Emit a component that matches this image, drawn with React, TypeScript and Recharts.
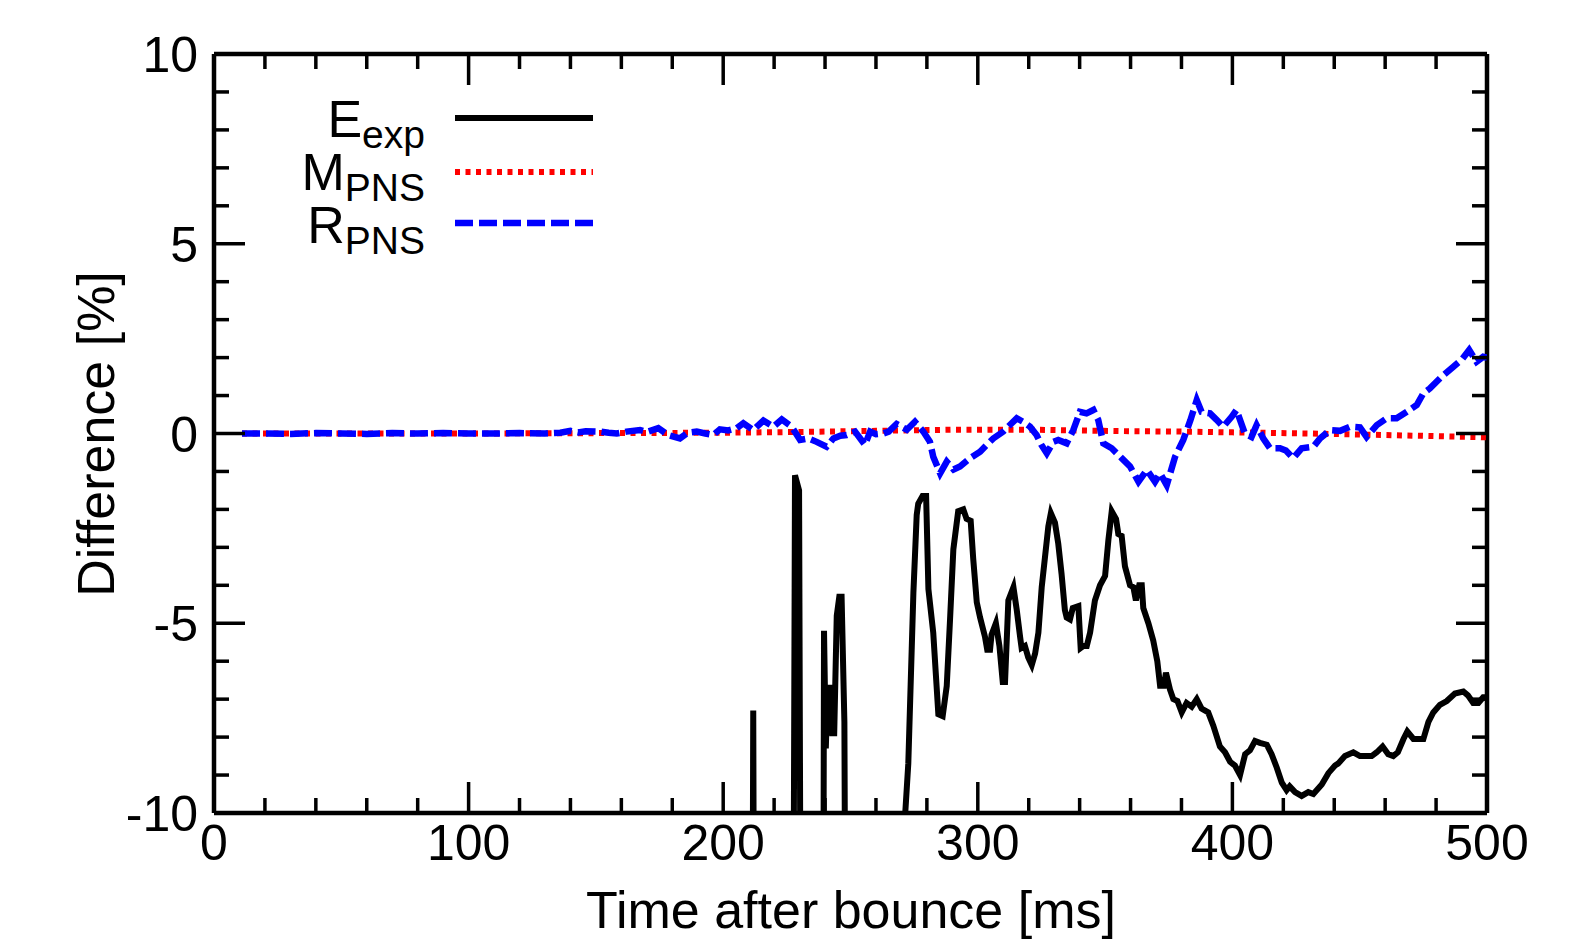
import React from "react";
import {
  LineChart,
  Line,
  XAxis,
  YAxis,
  ReferenceLine,
  Legend,
} from "recharts";

const FONT = '"Liberation Sans", Arial, Helvetica, sans-serif';

const W = 1578;
const H = 947;
const PLOT_LEFT = 214;
const PLOT_TOP = 54;
const PLOT_RIGHT = 1487;
const PLOT_BOTTOM = 813;
const PLOT_W = PLOT_RIGHT - PLOT_LEFT;
const PLOT_H = PLOT_BOTTOM - PLOT_TOP;

const X_TICKS = Array.from({ length: 26 }, (_, i) => i * 20);
const Y_TICKS = Array.from({ length: 21 }, (_, i) => i - 10);
const X_LABELS = [0, 100, 200, 300, 400, 500];
const Y_LABELS = [-10, -5, 0, 5, 10];

// E_exp: [time ms, difference %]; -30 means far below the frame
const E_EXP: [number, number][] = [
  [11, -30], [100, -30], [200, -30], [210.8, -30], [211.8, -7.3], [212.8, -30],
  [226.8, -30], [228.2, -1.1], [229.8, -1.5], [231.2, -30],
  [238.8, -30], [239.6, -5.2], [240.3, -8.3], [241, -6.7], [242, -6.7], [242.8, -7.9],
  [243.6, -7.9], [244.6, -4.8], [245.6, -4.3], [246.5, -4.3], [247.6, -7.6], [249, -30],
  [270, -30], [271.5, -10], [272.7, -8.7], [274.7, -4.2], [276, -2.15], [276.6, -1.85],
  [278.3, -1.65], [279.7, -1.65], [280.6, -4.1], [282.5, -5.25], [283.9, -6.75],
  [284.5, -7.4], [286.2, -7.45], [287.8, -6.65], [289.1, -4.9], [290.4, -3.05],
  [292.3, -2.05], [294.3, -2.0], [295.6, -2.25], [297.2, -2.3], [298.2, -3.3],
  [299.6, -4.45], [300.9, -4.85], [302.8, -5.35], [303.7, -5.7], [304.8, -5.7],
  [305.4, -5.3], [307.1, -5.0], [308.5, -5.6], [309.8, -6.55], [310.7, -6.55],
  [312, -4.4], [314, -4.05], [315.3, -4.65], [316.6, -5.35], [317.2, -5.65],
  [318.5, -5.6], [319.8, -5.9], [321.2, -6.1], [322.5, -5.8], [323.8, -5.25],
  [325.1, -4.05], [326.4, -3.25], [327.7, -2.45], [328.7, -2.1], [330.3, -2.35],
  [331.6, -2.9], [332.9, -3.7], [334.2, -4.65], [334.9, -4.85], [336.2, -4.9],
  [337.3, -4.6], [339.5, -4.55], [340.4, -5.65], [341.4, -5.6], [342.8, -5.6],
  [344.1, -5.25], [346, -4.4], [348, -4.0], [350, -3.75], [351.3, -2.8],
  [352.6, -2.05], [354.3, -2.25], [355.2, -2.65], [356.5, -2.7], [357.8, -3.5],
  [359.8, -4.0], [361.1, -4.05], [362.1, -4.4], [363.4, -4.0], [364.4, -4.0],
  [365, -4.6], [367, -5.0], [368.9, -5.45], [370.5, -6.0], [371.6, -6.65],
  [373.1, -6.65], [373.9, -6.3], [375.5, -6.75], [376.8, -7.0], [378.4, -7.05],
  [380.1, -7.35], [382, -7.1], [384, -7.2], [386, -7.0], [387.9, -7.25],
  [390.5, -7.35], [392.5, -7.7], [395.1, -8.25], [397.1, -8.4], [399.1, -8.65],
  [401, -8.75], [403, -9.0], [405, -8.45], [406.9, -8.35], [408.9, -8.1],
  [410.8, -8.15], [413.5, -8.2], [415.4, -8.45], [417.4, -8.8], [419.4, -9.2],
  [421.3, -9.4], [422.5, -9.3], [424.6, -9.45], [427.2, -9.55], [429.8, -9.45],
  [431.8, -9.5], [435.1, -9.25], [437.7, -8.95], [440.3, -8.75], [441.5, -8.7],
  [444.2, -8.5], [447.5, -8.4], [450.1, -8.5], [452.7, -8.5], [454.7, -8.5],
  [456.7, -8.4], [459, -8.25], [461.2, -8.45], [463.2, -8.5], [465, -8.4],
  [467.2, -8.05], [468.7, -7.85], [471.1, -8.05], [475, -8.05], [477, -7.6],
  [478.9, -7.35], [481.5, -7.15], [484.2, -7.05], [487.4, -6.85], [490.7, -6.8],
  [492.5, -6.9], [494.6, -7.1], [496.6, -7.1], [498.5, -6.95], [500, -6.95],
];

const M_PNS: [number, number][] = [
  [11, 0], [50, 0], [100, 0], [150, 0.01], [200, 0.02], [230, 0.04], [260, 0.07],
  [290, 0.1], [320, 0.1], [340, 0.08], [360, 0.06], [380, 0.05], [400, 0.03],
  [430, 0.0], [460, -0.04], [480, -0.07], [500, -0.1],
];

const R_PNS: [number, number][] = [
  [11, 0], [20, 0], [30, -0.01], [40, 0.01], [50, 0], [60, -0.01], [70, 0.01],
  [80, 0], [90, 0.01], [100, 0], [110, 0], [120, 0.01], [130, 0], [136, 0.02],
  [140, 0.07], [143, 0.03], [146, 0.06], [151.6, 0.05], [155, 0.02], [158.2, 0],
  [162, 0.05], [167.3, 0.09], [170, 0.04], [174.5, 0.14], [178.4, -0.04],
  [183, -0.13], [186, 0.02], [189.6, 0.05], [193, 0.0], [196.1, -0.04],
  [198.7, 0.11], [202, 0.08], [205.3, 0.14], [207.9, 0.27], [211.8, 0.09],
  [215.8, 0.34], [219.7, 0.18], [223, 0.37], [226.9, 0.18], [230.2, -0.17],
  [233.4, -0.13], [236.7, -0.22], [240.6, -0.35], [243.3, -0.13], [246, -0.06],
  [248.5, -0.04], [251.8, 0.05], [255.7, -0.3], [257.7, 0.05], [260, -0.02],
  [262.9, 0.0], [265, 0.05], [268.1, 0.25], [272.1, 0.1], [275.3, 0.31],
  [278.6, 0.05], [281.2, -0.22], [282.5, -0.61], [285.2, -1.05], [287.8, -0.74],
  [290.5, -0.95], [293, -0.87], [297, -0.65], [300.9, -0.48], [303.5, -0.3],
  [306.1, -0.13], [310, 0.05], [313, 0.25], [315.3, 0.4], [318, 0.3],
  [320.5, 0.18], [323.1, -0.04], [325, -0.3], [327.1, -0.52], [329.7, -0.22],
  [331.6, -0.17], [334.9, -0.26], [337.5, 0.09], [340.1, 0.57], [342.7, 0.53],
  [345.4, 0.62], [347.3, 0.36], [349.3, -0.26], [352.6, -0.39], [356.5, -0.65],
  [359.8, -0.87], [363.1, -1.27], [366.4, -0.96], [369.6, -1.27], [371.6, -1.05],
  [374.2, -1.36], [377.5, -0.61], [380.7, -0.17], [383.5, 0.35], [386, 0.88],
  [387.9, 0.57], [391.2, 0.53], [393.8, 0.36], [396.4, 0.18], [399.7, 0.44],
  [401.6, 0.62], [404.9, 0], [407.5, -0.09], [409.5, 0.22], [412.1, -0.13],
  [414.8, -0.39], [418.7, -0.39], [421, -0.45], [423.9, -0.65], [427.2, -0.39],
  [431.8, -0.35], [434.4, -0.13], [438.4, 0.09], [442.3, 0.07], [446.2, 0.18],
  [450.1, 0.16], [452.7, -0.09], [456.7, 0.22], [460.6, 0.4], [464.5, 0.4],
  [468.5, 0.57], [472.4, 0.75], [475, 1.06], [477.6, 1.19], [482.2, 1.5],
  [486.8, 1.76], [490, 1.94], [493, 2.2], [495.9, 1.89], [498.5, 2.02], [500, 2.0],
];

const toRows = (pts: [number, number][]) => pts.map(([t, v]) => ({ t, v }));

const SERIES = [
  { name: "E_exp", main: "E", sub: "exp", data: toRows(E_EXP), color: "#000000", width: 6, dash: undefined },
  { name: "M_PNS", main: "M", sub: "PNS", data: toRows(M_PNS), color: "#ff0000", width: 6, dash: "5 5.5" },
  { name: "R_PNS", main: "R", sub: "PNS", data: toRows(R_PNS), color: "#0000ff", width: 6.5, dash: "18 6" },
];

function XTick(props: any) {
  const { x, y, payload } = props;
  const major = payload.value % 100 === 0;
  const len = major ? 31 : 15;
  return (
    <g>
      <line x1={x} y1={y} x2={x} y2={y - len} stroke="#000" strokeWidth={3.5} />
      <line x1={x} y1={y - PLOT_H} x2={x} y2={y - PLOT_H + len} stroke="#000" strokeWidth={3.5} />
      {X_LABELS.includes(payload.value) && (
        <text x={x} y={y + 47} textAnchor="middle" fontSize={50} fontFamily={FONT} fill="#000">
          {payload.value}
        </text>
      )}
    </g>
  );
}

function YTick(props: any) {
  const { x, y, payload } = props;
  const major = payload.value % 5 === 0;
  const len = major ? 31 : 15;
  return (
    <g>
      <line x1={x} y1={y} x2={x + len} y2={y} stroke="#000" strokeWidth={3.5} />
      <line x1={x + PLOT_W - len} y1={y} x2={x + PLOT_W} y2={y} stroke="#000" strokeWidth={3.5} />
      {Y_LABELS.includes(payload.value) && (
        <text x={x - 16} y={y + 18} textAnchor="end" fontSize={50} fontFamily={FONT} fill="#000">
          {payload.value}
        </text>
      )}
    </g>
  );
}

function LegendBox() {
  const rows = [
    { y: 118, base: 137 },
    { y: 172, base: 190 },
    { y: 223, base: 243 },
  ];
  return (
    <svg width={W} height={300} style={{ display: "block" }}>
      {SERIES.map((s, i) => (
        <g key={s.name}>
          <text x={425} y={rows[i].base} textAnchor="end" fontSize={52} fontFamily={FONT} fill="#000">
            {s.main}
            <tspan fontSize={39} dy={11}>{s.sub}</tspan>
          </text>
          <line
            x1={455}
            x2={593}
            y1={rows[i].y}
            y2={rows[i].y}
            stroke={s.color}
            strokeWidth={s.width}
            strokeDasharray={s.dash}
          />
        </g>
      ))}
    </svg>
  );
}

export default function App() {
  return (
    <div style={{ position: "absolute", left: 0, top: 0, width: W, height: H, background: "#fff" }}>
      <LineChart
        width={W}
        height={H}
        margin={{ top: PLOT_TOP, right: W - PLOT_RIGHT, bottom: 0, left: 0 }}
      >
        <XAxis
          type="number"
          dataKey="t"
          domain={[0, 500]}
          ticks={X_TICKS}
          interval={0}
          allowDataOverflow
          height={H - PLOT_BOTTOM}
          tickSize={0}
          tickMargin={0}
          tickLine={false}
          axisLine={{ stroke: "#000", strokeWidth: 4.5 }}
          tick={<XTick />}
          label={{
            value: "Time after bounce [ms]",
            position: "insideBottom",
            offset: 0,
            content: () => (
              <text x={851} y={928} textAnchor="middle" fontSize={52} fontFamily={FONT} fill="#000">
                Time after bounce [ms]
              </text>
            ),
          }}
        />
        <YAxis
          type="number"
          domain={[-10, 10]}
          ticks={Y_TICKS}
          interval={0}
          allowDataOverflow
          width={PLOT_LEFT}
          tickSize={0}
          tickMargin={0}
          tickLine={false}
          axisLine={{ stroke: "#000", strokeWidth: 4.5 }}
          tick={<YTick />}
          label={{
            value: "Difference [%]",
            content: () => (
              <text
                x={114}
                y={434}
                transform="rotate(-90, 114, 434)"
                textAnchor="middle"
                fontSize={52}
                fontFamily={FONT}
                fill="#000"
              >
                Difference [%]
              </text>
            ),
          }}
        />
        <ReferenceLine y={10} stroke="#000" strokeWidth={4.5} />
        <ReferenceLine x={500} stroke="#000" strokeWidth={4.5} />
        {SERIES.map((s) => (
          <Line
            key={s.name}
            name={s.name}
            data={s.data}
            dataKey="v"
            type="linear"
            stroke={s.color}
            strokeWidth={s.width}
            strokeDasharray={s.dash}
            dot={false}
            activeDot={false}
            isAnimationActive={false}
          />
        ))}
        <Legend
          layout="vertical"
          align="center"
          verticalAlign="middle"
          content={() => <LegendBox />}
          wrapperStyle={{ position: "absolute", left: 0, top: 0, width: W, height: 300 }}
        />
      </LineChart>
    </div>
  );
}
